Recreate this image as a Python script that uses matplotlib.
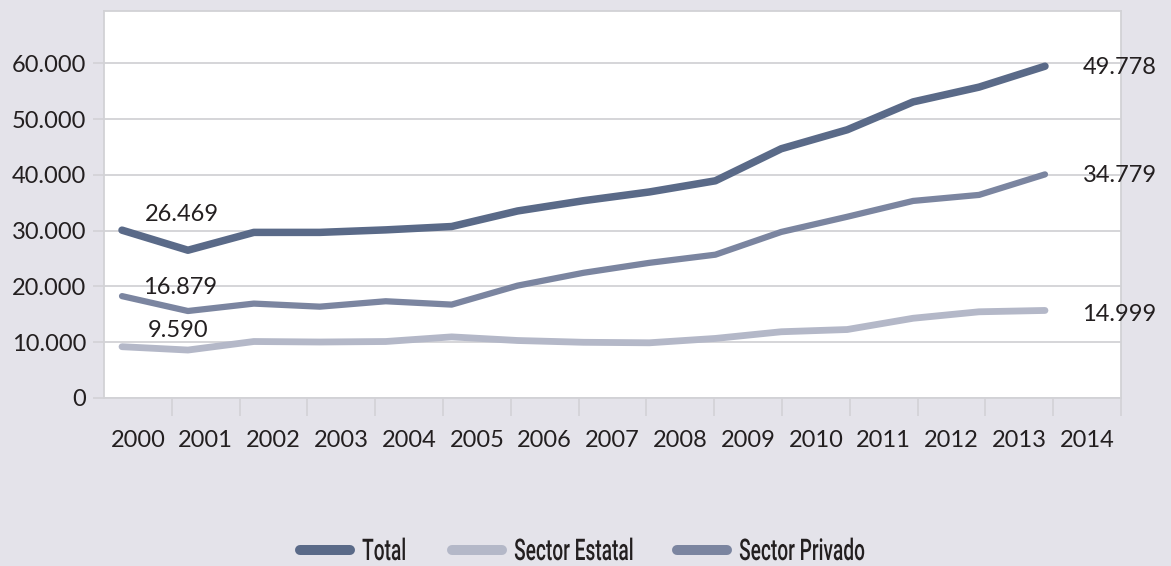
"""
Empleo: Total, Sector Estatal y Sector Privado, 2000-2014
"""

import matplotlib
matplotlib.use("Agg")
import matplotlib.pyplot as plt
from matplotlib.ticker import FuncFormatter, FixedLocator
from matplotlib.lines import Line2D
from matplotlib.patheffects import AbstractPathEffect
from matplotlib.transforms import Affine2D

years = [2000, 2001, 2002, 2003, 2004, 2005, 2006, 2007,
         2008, 2009, 2010, 2011, 2012, 2013, 2014]
year_labels = [str(y) for y in years]

total = [30100, 26500, 29700, 29700, 30150, 30750, 33540, 35380,
         36950, 38950, 44700, 48100, 53100, 55750, 59500]
estatal = [9200, 8600, 10130, 10040, 10130, 10960, 10310, 9990,
           9900, 10680, 11880, 12280, 14300, 15460, 15700]
privado = [18270, 15600, 16930, 16380, 17350, 16750, 20150, 22450,
           24240, 25700, 29780, 32500, 35340, 36420, 40100]

series_names = ["Total", "Sector Estatal", "Sector Privado"]
start_labels = ["26.469", "16.879", "9.590"]
end_labels = ["49.778", "34.779", "14.999"]

c_total = "#5a6a88"
c_estatal = "#b4b8c8"
c_privado = "#7b85a0"
bg = "#e4e3ea"
grid_c = "#d2d2d6"
txt_c = "#231f20"

plt.rcParams["font.family"] = ["Lato", "DejaVu Sans"]


class Condense(AbstractPathEffect):
    """squeeze glyphs horizontally (the legend uses a condensed face)"""

    def __init__(self, sx):
        super().__init__()
        self.sx = sx

    def draw_path(self, renderer, gc, tpath, affine, rgbFace=None):
        renderer.draw_path(gc, tpath, Affine2D().scale(self.sx, 1) + affine, rgbFace)


fig = plt.figure(figsize=(11.71, 5.66), dpi=100, facecolor=bg)
ax = fig.add_axes([104 / 1171, 168 / 566, 1017 / 1171, 387 / 566])
ax.set_facecolor("white")

# x range: data points do not sit exactly on the category centres
x0, x1 = 1999.727, 2015.153
ax.set_xlim(x0, x1)
ax.set_ylim(0, 69400)

l_total, = ax.plot(years, total, color=c_total, lw=5.4, solid_capstyle="round",
                   solid_joinstyle="round", zorder=4)
l_estatal, = ax.plot(years, estatal, color=c_estatal, lw=4.9, solid_capstyle="round",
                     solid_joinstyle="round", zorder=3)
l_privado, = ax.plot(years, privado, color=c_privado, lw=4.5, solid_capstyle="round",
                     solid_joinstyle="round", zorder=3)

# y axis
ax.set_yticks(range(0, 60001, 10000))
ax.yaxis.set_major_formatter(FuncFormatter(lambda v, p: f"{int(v):,}".replace(",", ".")))
ax.yaxis.grid(True, color=grid_c, lw=1.3)
ax.set_axisbelow(True)
ax.tick_params(axis="y", length=8, width=1.2, color=grid_c, pad=5,
               labelsize=17, labelcolor=txt_c)

# x axis: labels in category centres, tick marks on boundaries
step = (x1 - x0) / len(years)
ax.xaxis.set_major_locator(FixedLocator([x0 + (i + 0.5) * step for i in range(len(years))]))
ax.set_xticklabels(year_labels)
ax.xaxis.set_minor_locator(FixedLocator([x0 + (i + 1) * step for i in range(len(years))]))
ax.tick_params(axis="x", which="major", length=0, pad=23, labelsize=17, labelcolor=txt_c)
ax.tick_params(axis="x", which="minor", length=13, width=1.2, color=grid_c)

for s in ax.spines.values():
    s.set_color(grid_c)
    s.set_linewidth(1.3)

# value labels
ax.annotate(start_labels[0], (years[1], total[1]), xytext=(-4, 26),
            textcoords="offset points", ha="center", va="center", fontsize=17, color=txt_c)
ax.annotate(start_labels[1], (years[1], privado[1]), xytext=(-6, 17),
            textcoords="offset points", ha="center", va="center", fontsize=17, color=txt_c)
ax.annotate(start_labels[2], (years[1], estatal[1]), xytext=(-7, 14),
            textcoords="offset points", ha="center", va="center", fontsize=17, color=txt_c)

ax.annotate(end_labels[0], (years[-1], total[-1]), xytext=(27, -1),
            textcoords="offset points", ha="left", va="center", fontsize=17,
            color=txt_c, annotation_clip=False)
ax.annotate(end_labels[1], (years[-1], privado[-1]), xytext=(27, -1),
            textcoords="offset points", ha="left", va="center", fontsize=17,
            color=txt_c, annotation_clip=False)
ax.annotate(end_labels[2], (years[-1], estatal[-1]), xytext=(27, -3),
            textcoords="offset points", ha="left", va="center", fontsize=17,
            color=txt_c, annotation_clip=False)

# legend: one small legend per entry so spacing matches the condensed text
leg_x = [300, 452, 677]
for line, name, lx in zip([l_total, l_estatal, l_privado], series_names, leg_x):
    h = Line2D([], [], color=line.get_color(), lw=7.2, solid_capstyle="round")
    leg = fig.legend([h], [name], loc="center left",
                     bbox_to_anchor=(lx / 1171, 1 - 552 / 566),
                     frameon=False, borderpad=0, borderaxespad=0,
                     handlelength=1.68, handletextpad=0.4,
                     prop={"family": ["Roboto", "DejaVu Sans"], "size": 21.5,
                           "weight": "medium"},
                     labelcolor=txt_c)
    for t in leg.get_texts():
        t.set_path_effects([Condense(0.64)])

plt.savefig("out.png", dpi=100, facecolor=bg)
